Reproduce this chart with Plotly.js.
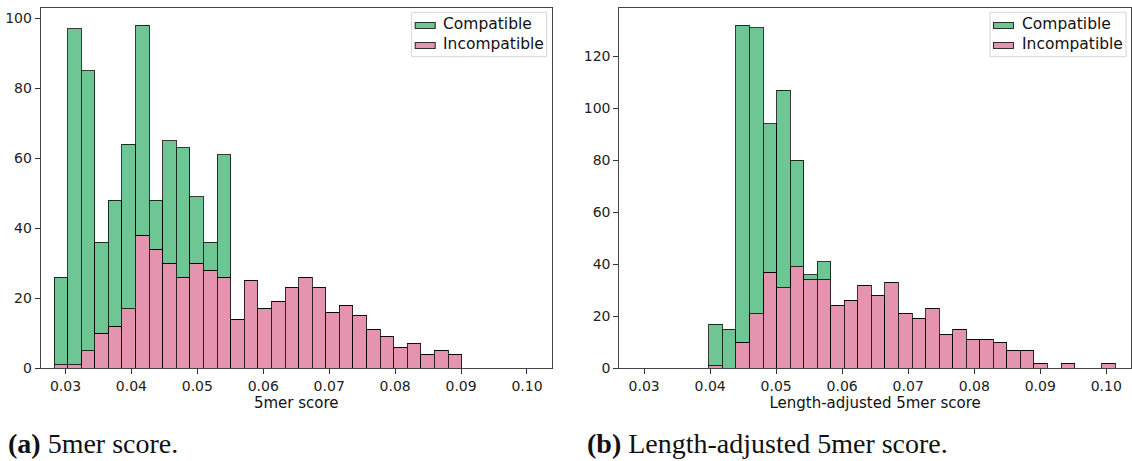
<!DOCTYPE html>
<html>
<head>
<meta charset="utf-8">
<script src="https://cdn.plot.ly/plotly-3.0.1.min.js"></script>
<style>
  html, body { margin: 0; padding: 0; background: #fff; }
  #chart { width: 1132px; height: 461px; }
</style>
</head>
<body>
<div id="chart"></div>
<script>
// Histogram bins: 30 equal-width bins per panel (left edge of first bin, bin width)
const rawBinStart = 0.02826;
const rawBinWidth = 0.002061;
const adjBinStart = 0.03980;
const adjBinWidth = 0.002052;

// (a) 5mer score — counts per bin
const rawIncompatible = [1, 1, 5, 10, 12, 17, 38, 34, 30, 26, 30, 28, 26, 14, 25,
                         17, 19, 23, 26, 23, 16, 18, 15, 11, 9, 6, 7, 4, 5, 4];
const rawCompatible   = [25, 96, 80, 26, 36, 47, 60, 14, 35, 37, 19, 8, 35, 0, 0,
                         0, 0, 0, 0, 0, 0, 0, 0, 0, 0, 0, 0, 0, 0, 0];

// (b) Length-adjusted 5mer score — counts per bin
const adjIncompatible = [1, 0, 10, 21, 37, 31, 39, 34, 34, 24, 26, 32, 28, 33, 21,
                         19, 23, 13, 15, 11, 11, 10, 7, 7, 2, 0, 2, 0, 0, 2];
const adjCompatible   = [16, 15, 122, 110, 57, 76, 41, 2, 7, 0, 0, 0, 0, 0, 0,
                         0, 0, 0, 0, 0, 0, 0, 0, 0, 0, 0, 0, 0, 0, 0];

const seriesNames = ['Compatible', 'Incompatible'];
const xTicks = [0.03, 0.04, 0.05, 0.06, 0.07, 0.08, 0.09, 0.10];
const xTitles = ['5mer score', 'Length-adjusted 5mer score'];
const captions = ['<b>(a)</b> 5mer score.', '<b>(b)</b> Length-adjusted 5mer score.'];

const W = 1132, H = 461;
const px = v => v / W;
const py = v => 1 - v / H;

const green = 'rgb(109,198,148)';
const pink = 'rgb(228,148,174)';
const edge = 'rgba(0,0,0,0.78)';

function centers(start, width, n) {
  return Array.from({length: n}, (_, i) => start + width * (i + 0.5));
}

function barTrace(name, x, y, width, color, xa, ya) {
  return {
    type: 'bar', name: name, x: x, y: y, width: width,
    xaxis: xa, yaxis: ya, showlegend: false,
    marker: {color: color, line: {color: edge, width: 1}},
    hoverinfo: 'x+y+name'
  };
}

const rawX = centers(rawBinStart, rawBinWidth, rawIncompatible.length);
const adjX = centers(adjBinStart, adjBinWidth, adjIncompatible.length);

const data = [
  barTrace(seriesNames[1], rawX, rawIncompatible, rawBinWidth, pink, 'x', 'y'),
  barTrace(seriesNames[0], rawX, rawCompatible, rawBinWidth, green, 'x', 'y'),
  barTrace(seriesNames[1], adjX, adjIncompatible, adjBinWidth, pink, 'x2', 'y2'),
  barTrace(seriesNames[0], adjX, adjCompatible, adjBinWidth, green, 'x2', 'y2')
];

const tickFont = {family: 'DejaVu Sans', size: 14, color: '#222'};
const titleFont = {family: 'DejaVu Sans', size: 15, color: '#111'};

function xAxis(domain, title, anchor) {
  return {
    domain: domain, anchor: anchor, range: [0.02624, 0.10375],
    tickvals: xTicks, tickformat: '.2f',
    ticks: 'outside', ticklen: 5, tickwidth: 1, tickcolor: '#333',
    showline: true, mirror: true, linecolor: '#444', linewidth: 1,
    showgrid: false, zeroline: false, tickfont: tickFont,
    title: {text: title, font: titleFont, standoff: 2}
  };
}
function yAxis(domain, top, anchor) {
  return {
    domain: domain, anchor: anchor, range: [0, top], dtick: 20, tick0: 0,
    ticks: 'outside', ticklen: 5, tickwidth: 1, tickcolor: '#333',
    showline: true, mirror: true, linecolor: '#444', linewidth: 1,
    showgrid: false, zeroline: false, tickfont: tickFont
  };
}

const yDom = [py(368.3), py(8)];
const layout = {
  width: W, height: H,
  margin: {l: 0, r: 0, t: 0, b: 0},
  paper_bgcolor: '#fff', plot_bgcolor: '#fff',
  barmode: 'stack', bargap: 0, showlegend: false,
  xaxis: xAxis([px(40.7), px(551.7)], xTitles[0], 'y'),
  yaxis: yAxis(yDom, 102.9, 'x'),
  xaxis2: xAxis([px(619.3), px(1131)], xTitles[1], 'y2'),
  yaxis2: yAxis(yDom, 138.6, 'x2'),
  shapes: [], annotations: []
};

// Per-panel legend boxes
function addLegend(x0, x1) {
  const s = layout.shapes, a = layout.annotations;
  s.push({type: 'rect', xref: 'paper', yref: 'paper',
    x0: px(x0), x1: px(x1), y0: py(56.7), y1: py(12.3),
    fillcolor: 'rgba(255,255,255,0.8)', line: {color: '#d6d6d6', width: 1}});
  const rows = [{name: seriesNames[0], color: green, y: 25.5},
                {name: seriesNames[1], color: pink, y: 45.5}];
  rows.forEach(r => {
    s.push({type: 'rect', xref: 'paper', yref: 'paper',
      x0: px(x0 + 3.5), x1: px(x0 + 23.5), y0: py(r.y + 3), y1: py(r.y - 3),
      fillcolor: r.color, line: {color: edge, width: 1.1}});
    a.push({xref: 'paper', yref: 'paper', x: px(x0 + 29.5), y: py(r.y - 1.5),
      xanchor: 'left', yanchor: 'middle', showarrow: false, text: r.name,
      font: {family: 'DejaVu Sans', size: 15.5, color: '#111'}});
  });
}
addLegend(411.7, 546.7);
addLegend(990, 1126);

// Figure captions
[[6, captions[0]], [585, captions[1]]].forEach(([x, t]) => {
  layout.annotations.push({xref: 'paper', yref: 'paper', x: px(x), y: py(443),
    xanchor: 'left', yanchor: 'middle', showarrow: false, text: t,
    font: {family: 'Liberation Serif', size: 28, color: '#111'}});
});

Plotly.newPlot('chart', data, layout, {staticPlot: true, displayModeBar: false});
</script>
</body>
</html>
